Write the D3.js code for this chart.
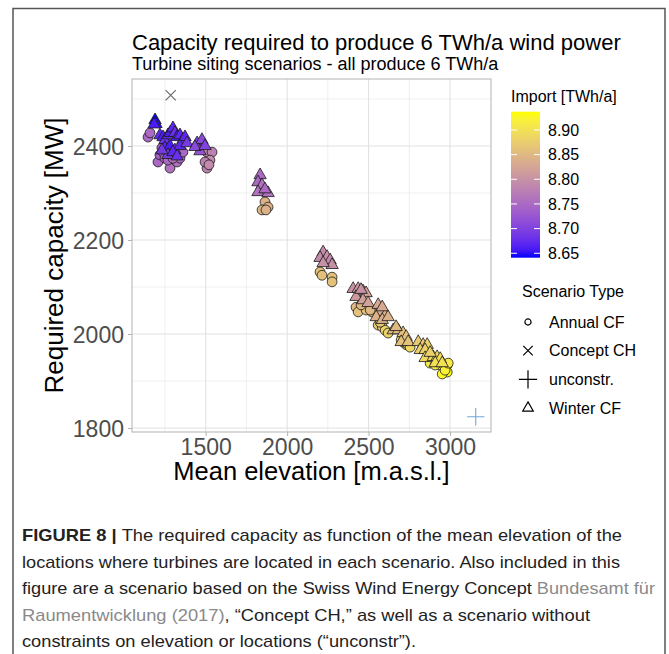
<!DOCTYPE html>
<html>
<head>
<meta charset="utf-8">
<script src="https://cdn.jsdelivr.net/npm/d3@7"></script>
<style>
  body { margin: 0; background: #fff; }
  svg { display: block; font-family: "Liberation Sans", Arial, sans-serif; }
</style>
</head>
<body>
<svg id="chart" width="669" height="654"></svg>
<script>
// winter CF scenarios (triangles)
const winterElev = [1189, 1195, 1183, 1219, 1238, 1250, 1268, 1281, 1299, 1311, 1324, 1342, 1360, 1373, 1250, 1281, 1311, 1342, 1268, 1299, 1324, 1231, 1385,
  1447, 1477, 1465, 1434, 1496,
  1834, 1821, 1846, 1821, 1883, 1864,
  2221, 2202, 2245, 2264, 2276, 2221,
  2405, 2436, 2466, 2485, 2423, 2466, 2497, 2454,
  2559, 2571, 2602, 2547, 2584, 2620, 2584,
  2651, 2682, 2712, 2731, 2700, 2743, 2669,
  2805, 2835, 2860, 2817, 2847, 2847, 2897, 2921, 2940, 2878, 2909, 2952]
const winterCap = [2455, 2447, 2446, 2423, 2419, 2413, 2423, 2428, 2438, 2428, 2419, 2423, 2413, 2419, 2396, 2400, 2391, 2400, 2381, 2387, 2378, 2391, 2406,
  2406, 2413, 2389, 2398, 2400,
  2338, 2323, 2317, 2302, 2300, 2308,
  2174, 2162, 2164, 2157, 2147, 2151,
  2096, 2096, 2091, 2087, 2079, 2072, 2066, 2094,
  2062, 2047, 2040, 2036, 2030, 2036, 2057,
  2008, 2008, 2002, 1994, 1983, 1983, 2015,
  1983, 1977, 1977, 1966, 1966, 1949, 1951, 1951, 1947, 1960, 1938, 1938]
const winterImport = [8.641, 8.65, 8.66, 8.67, 8.66, 8.68, 8.67, 8.66, 8.67, 8.68, 8.66, 8.67, 8.69, 8.67, 8.67, 8.66, 8.68, 8.67, 8.69, 8.67, 8.68, 8.69, 8.69,
  8.70, 8.71, 8.72, 8.71, 8.70,
  8.75, 8.75, 8.76, 8.76, 8.76, 8.75,
  8.79, 8.79, 8.80, 8.79, 8.80, 8.80,
  8.80, 8.81, 8.81, 8.82, 8.81, 8.82, 8.82, 8.80,
  8.83, 8.83, 8.84, 8.84, 8.84, 8.84, 8.83,
  8.85, 8.85, 8.86, 8.86, 8.86, 8.86, 8.85,
  8.87, 8.87, 8.88, 8.88, 8.88, 8.89, 8.89, 8.89, 8.90, 8.88, 8.90, 8.90]

// annual CF scenarios (circles)
const annualElev = [1146, 1158, 1207, 1219, 1238, 1250, 1281, 1268, 1324, 1311, 1342, 1299, 1231, 1360,
  1508, 1539, 1508, 1526, 1496, 1520,
  1864, 1846, 1883, 1870,
  2202, 2214, 2276, 2276,
  2423, 2436, 2485, 2522, 2510, 2454,
  2559, 2584, 2602, 2620, 2571,
  2700, 2731, 2712, 2743, 2755,
  2878, 2940, 2983, 2983, 2952, 2909, 2970, 2989]
const annualCap = [2419, 2428, 2366, 2381, 2387, 2374, 2353, 2370, 2366, 2381, 2374, 2374, 2396, 2387,
  2387, 2387, 2353, 2370, 2366, 2360,
  2281, 2264, 2270, 2264,
  2132, 2125, 2121, 2111,
  2057, 2047, 2051, 2047, 2051, 2062,
  2019, 2015, 2008, 2002, 2025,
  1987, 1977, 1983, 1977, 1972,
  1938, 1934, 1934, 1919, 1915, 1934, 1923, 1938]
const annualImport = [8.75, 8.75, 8.75, 8.74, 8.74, 8.75, 8.76, 8.75, 8.76, 8.74, 8.75, 8.76, 8.74, 8.75,
  8.79, 8.78, 8.78, 8.79, 8.78, 8.79,
  8.84, 8.85, 8.84, 8.84,
  8.86, 8.86, 8.86, 8.86,
  8.85, 8.86, 8.86, 8.86, 8.85, 8.85,
  8.87, 8.87, 8.88, 8.88, 8.87,
  8.88, 8.88, 8.88, 8.89, 8.89,
  8.91, 8.92, 8.92, 8.937, 8.93, 8.91, 8.92, 8.91]

const conceptElev = [1285], conceptCap = [2508]
const unconstrElev = [3158], unconstrCap = [1824]

const xTicks = [1500, 2000, 2500, 3000]
const xMinor = [1250, 1750, 2250, 2750]
const yTicks = [1800, 2000, 2200, 2400]
const yMinor = [1900, 2100, 2300, 2500]
const importTicks = [8.65, 8.70, 8.75, 8.80, 8.85, 8.90]
const scenarioTypes = ['Annual CF', 'Concept CH', 'unconstr.', 'Winter CF']

const svg = d3.select('#chart')

// outer figure frame
svg.append('rect')
  .attr('x', 13).attr('y', 8.5).attr('width', 652).attr('height', 700)
  .attr('fill', 'none').attr('stroke', '#555').attr('stroke-width', 1.5)

const panel = { left: 132, right: 491, top: 79, bottom: 432 }

const x = d3.scaleLinear().domain([1047.5, 3251.7]).range([panel.left, panel.right])
const y = d3.scaleLinear().domain([1791.5, 2542.6]).range([panel.bottom, panel.top])

const allImport = winterImport.concat(annualImport)
const color = d3.scaleSequential(d3.interpolateLab('#0000ff', '#ffff00'))
  .domain(d3.extent(allImport))

// titles
svg.append('text').attr('x', panel.left).attr('y', 50)
  .attr('font-size', 22).attr('fill', '#000')
  .text('Capacity required to produce 6 TWh/a wind power')
svg.append('text').attr('x', panel.left).attr('y', 70)
  .attr('font-size', 18).attr('fill', '#000')
  .text('Turbine siting scenarios - all produce 6 TWh/a')

// grid
const grid = svg.append('g')
grid.selectAll('.vmin').data(xMinor).join('line')
  .attr('x1', d => x(d)).attr('x2', d => x(d))
  .attr('y1', panel.top).attr('y2', panel.bottom)
  .attr('stroke', '#ebebeb').attr('stroke-width', 0.8)
grid.selectAll('.hmin').data(yMinor).join('line')
  .attr('y1', d => y(d)).attr('y2', d => y(d))
  .attr('x1', panel.left).attr('x2', panel.right)
  .attr('stroke', '#ebebeb').attr('stroke-width', 0.8)
grid.selectAll('.vmaj').data(xTicks).join('line')
  .attr('x1', d => x(d)).attr('x2', d => x(d))
  .attr('y1', panel.top).attr('y2', panel.bottom)
  .attr('stroke', '#e2e2e2').attr('stroke-width', 1.1)
grid.selectAll('.hmaj').data(yTicks).join('line')
  .attr('y1', d => y(d)).attr('y2', d => y(d))
  .attr('x1', panel.left).attr('x2', panel.right)
  .attr('stroke', '#e2e2e2').attr('stroke-width', 1.1)

// axes
const xAxis = svg.append('g')
  .attr('transform', `translate(0,${panel.bottom})`)
  .call(d3.axisBottom(x).tickValues(xTicks).tickFormat(d3.format('d')).tickSize(4).tickPadding(3))
const yAxis = svg.append('g')
  .attr('transform', `translate(${panel.left},0)`)
  .call(d3.axisLeft(y).tickValues(yTicks).tickFormat(d3.format('d')).tickSize(4).tickPadding(4))
;[xAxis, yAxis].forEach(a => {
  a.select('.domain').remove()
  a.selectAll('.tick line').attr('stroke', '#b3b3b3').attr('stroke-width', 1)
  a.selectAll('.tick text').attr('fill', '#4d4d4d')
    .attr('font-size', 23).attr('font-family', '"Liberation Sans", Arial, sans-serif')
})
xAxis.selectAll('.tick text').attr('dy', '0.71em')
yAxis.selectAll('.tick text').attr('dy', '0.36em')

svg.append('rect')
  .attr('x', panel.left).attr('y', panel.top)
  .attr('width', panel.right - panel.left).attr('height', panel.bottom - panel.top)
  .attr('fill', 'none').attr('stroke', '#b3b3b3').attr('stroke-width', 1)

svg.append('text')
  .attr('x', (panel.left + panel.right) / 2).attr('y', 480)
  .attr('text-anchor', 'middle').attr('font-size', 25.5).attr('fill', '#000')
  .text('Mean elevation [m.a.s.l.]')
svg.append('text')
  .attr('transform', `translate(63,${(panel.top + panel.bottom) / 2}) rotate(-90)`)
  .attr('text-anchor', 'middle').attr('font-size', 26).attr('fill', '#000')
  .text('Required capacity [MW]')

// points
const annual = annualElev.map((e, i) => ({ e, c: annualCap[i], imp: annualImport[i] }))
const winter = winterElev.map((e, i) => ({ e, c: winterCap[i], imp: winterImport[i] }))

svg.append('g').selectAll('circle').data(annual).join('circle')
  .attr('cx', d => x(d.e)).attr('cy', d => y(d.c)).attr('r', 4.9)
  .attr('fill', d => color(d.imp)).attr('stroke', '#1a1a1a').attr('stroke-width', 0.8)

const tri = d3.symbol(d3.symbolTriangle, 66)
svg.append('g').selectAll('path').data(winter).join('path')
  .attr('d', tri)
  .attr('transform', d => `translate(${x(d.e)},${y(d.c)})`)
  .attr('fill', d => color(d.imp)).attr('stroke', '#1a1a1a').attr('stroke-width', 0.8)

svg.append('g').selectAll('path').data(conceptElev).join('path')
  .attr('d', d3.symbol(d3.symbolTimes, 70))
  .attr('transform', (d, i) => `translate(${x(d)},${y(conceptCap[i])})`)
  .attr('fill', 'none').attr('stroke', '#666').attr('stroke-width', 1.1)

svg.append('g').selectAll('path').data(unconstrElev).join('path')
  .attr('d', d3.symbol(d3.symbolPlus, 100))
  .attr('transform', (d, i) => `translate(${x(d)},${y(unconstrCap[i])})`)
  .attr('fill', 'none').attr('stroke', '#6fa8dc').attr('stroke-width', 1.1)

// colour bar legend
const bar = { x: 511, w: 29, top: 111.7, bottom: 257.7 }
const cb = d3.scaleLinear().domain(color.domain()).range([bar.bottom, bar.top])
svg.append('text').attr('x', 511).attr('y', 102)
  .attr('font-size', 16).attr('fill', '#000').text('Import [TWh/a]')

const grad = svg.append('defs').append('linearGradient')
  .attr('id', 'importGrad').attr('x1', 0).attr('x2', 0).attr('y1', 1).attr('y2', 0)
grad.selectAll('stop').data(d3.range(0, 1.0001, 0.05)).join('stop')
  .attr('offset', d => d)
  .attr('stop-color', d => color(color.domain()[0] + d * (color.domain()[1] - color.domain()[0])))
svg.append('rect')
  .attr('x', bar.x).attr('y', bar.top).attr('width', bar.w).attr('height', bar.bottom - bar.top)
  .attr('fill', 'url(#importGrad)')
const cbTicks = svg.append('g').selectAll('g').data(importTicks).join('g')
cbTicks.append('line')
  .attr('x1', bar.x).attr('x2', bar.x + 6).attr('y1', d => cb(d)).attr('y2', d => cb(d))
  .attr('stroke', '#fff').attr('stroke-width', 1)
cbTicks.append('line')
  .attr('x1', bar.x + bar.w - 6).attr('x2', bar.x + bar.w).attr('y1', d => cb(d)).attr('y2', d => cb(d))
  .attr('stroke', '#fff').attr('stroke-width', 1)
cbTicks.append('text')
  .attr('x', 548).attr('y', d => cb(d)).attr('dy', '0.36em')
  .attr('font-size', 16).attr('fill', '#000')
  .text(d => d3.format('.2f')(d))

// shape legend
svg.append('text').attr('x', 522).attr('y', 297)
  .attr('font-size', 16).attr('fill', '#000').text('Scenario Type')
const keyY = d3.scalePoint().domain(scenarioTypes).range([322, 408])
const keyShapes = {
  'Annual CF': d3.symbol(d3.symbolCircle, 30),
  'Concept CH': d3.symbol(d3.symbolTimes, 60),
  'unconstr.': d3.symbol(d3.symbolPlus, 110),
  'Winter CF': d3.symbol(d3.symbolTriangle2, 80)
}
const keys = svg.append('g').selectAll('g').data(scenarioTypes).join('g')
  .attr('transform', d => `translate(528,${keyY(d)})`)
keys.append('path')
  .attr('d', d => keyShapes[d]())
  .attr('fill', 'none').attr('stroke', '#000').attr('stroke-width', 1.2)
keys.append('text')
  .attr('x', 21).attr('dy', '0.36em')
  .attr('font-size', 16).attr('fill', '#000').text(d => d)

// caption
const captionLines = [
  [['FIGURE 8 | ', 'bold'], ['The required capacity as function of the mean elevation of the', 'text']],
  [['locations where turbines are located in each scenario. Also included in this', 'text']],
  [['figure are a scenario based on the Swiss Wind Energy Concept ', 'text'], ['Bundesamt für', 'link']],
  [['Raumentwicklung (2017)', 'link'], [', “Concept CH,” as well as a scenario without', 'text']],
  [['constraints on elevation or locations (“unconstr”).', 'text']]
]
const captionWidths = [600, 598, 633, 568, 394]
const capBase = [541, 568, 594, 621, 647]
captionLines.forEach((parts, i) => {
  const t = svg.append('text')
    .attr('x', 22).attr('y', capBase[i])
    .attr('font-size', 17).attr('fill', '#222')
    .attr('textLength', captionWidths[i]).attr('lengthAdjust', 'spacingAndGlyphs')
  parts.forEach(([s, kind]) => {
    t.append('tspan').text(s)
      .attr('font-weight', kind === 'bold' ? 'bold' : null)
      .attr('fill', kind === 'link' ? '#8a8a8a' : null)
  })
})
</script>
</body>
</html>
